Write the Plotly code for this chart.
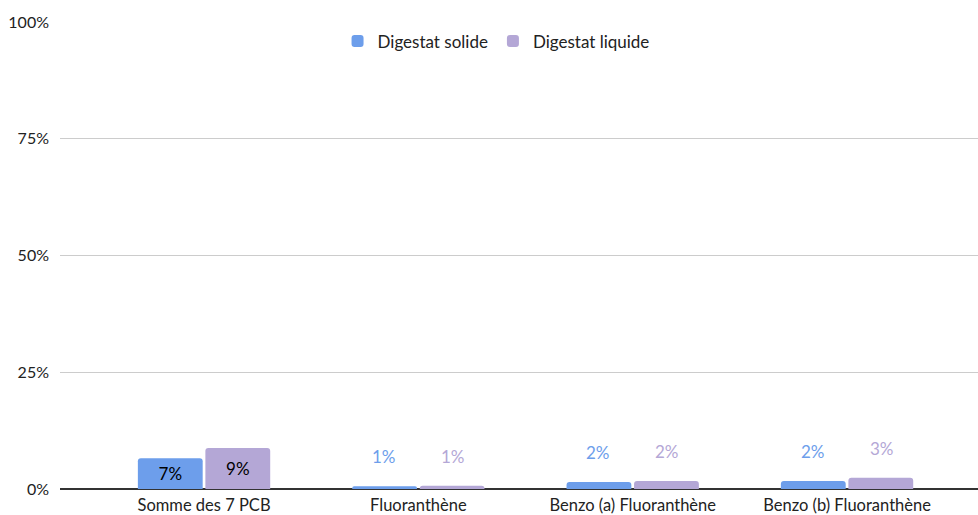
import plotly.graph_objects as go

categories = ["Somme des 7 PCB", "Fluoranthène", "Benzo (a) Fluoranthène", "Benzo (b) Fluoranthène"]
solide = [0.066, 0.006, 0.015, 0.017]
liquide = [0.088, 0.007, 0.017, 0.024]
solide_labels = ["7%", "1%", "2%", "2%"]
liquide_labels = ["9%", "1%", "2%", "3%"]
tick_vals = [0, 0.25, 0.5, 0.75, 1.0]
tick_text = ["0%", "25%", "50%", "75%", "100%"]

c_sol = "#6d9eeb"
c_liq = "#b4a7d6"
font = "Lato, 'Open Sans', sans-serif"

fig = go.Figure()
for name, vals, labs, col in [("Digestat solide", solide, solide_labels, c_sol),
                              ("Digestat liquide", liquide, liquide_labels, c_liq)]:
    inside = [l if i == 0 else "" for i, l in enumerate(labs)]
    fig.add_trace(go.Bar(
        name=name, x=categories, y=vals, marker=dict(color=col, line=dict(width=0)),
        text=inside, textposition="inside", insidetextanchor="middle", textangle=0,
        textfont=dict(color="#000000", size=17, family=font),
        hoverinfo="skip",
    ))

for off, vals, labs, col in [(-1, solide, solide_labels, c_sol), (1, liquide, liquide_labels, c_liq)]:
    for i, (c, v, l) in enumerate(zip(categories, vals, labs)):
        if i == 0:
            continue
        fig.add_annotation(x=c, y=v, text=l, showarrow=False, yanchor="bottom",
                           yshift=17, xshift=off * 34.5,
                           font=dict(color=col, size=17, family=font))

fig.update_layout(
    width=978, height=515, autosize=False,
    margin=dict(l=60, r=0, t=22, b=26, autoexpand=False),
    paper_bgcolor="white", plot_bgcolor="white",
    barmode="group", bargap=0.37, bargroupgap=0.04, barcornerradius=3,
    font=dict(family=font, size=16, color="#222222"),
    legend=dict(orientation="h", x=0.475, xanchor="center",
                y=0.997, yanchor="top", font=dict(size=17, color="#222222"),
                bgcolor="rgba(0,0,0,0)"),
    showlegend=True,
)
fig.update_xaxes(range=[-0.672, 3.611], showgrid=False, showline=False, zeroline=False,
                 ticks="", tickangle=0, ticklabelstandoff=4,
                 tickfont=dict(size=16.5, color="#222222"))
fig.update_yaxes(range=[0, 1.0], tickvals=tick_vals, ticktext=tick_text,
                 showgrid=True, gridcolor="#cccccc", gridwidth=1,
                 zeroline=True, zerolinecolor="#333333", zerolinewidth=1.5,
                 ticks="", ticklabelstandoff=10, tickfont=dict(size=16, color="#222222"))

fig.write_html("out.html")
